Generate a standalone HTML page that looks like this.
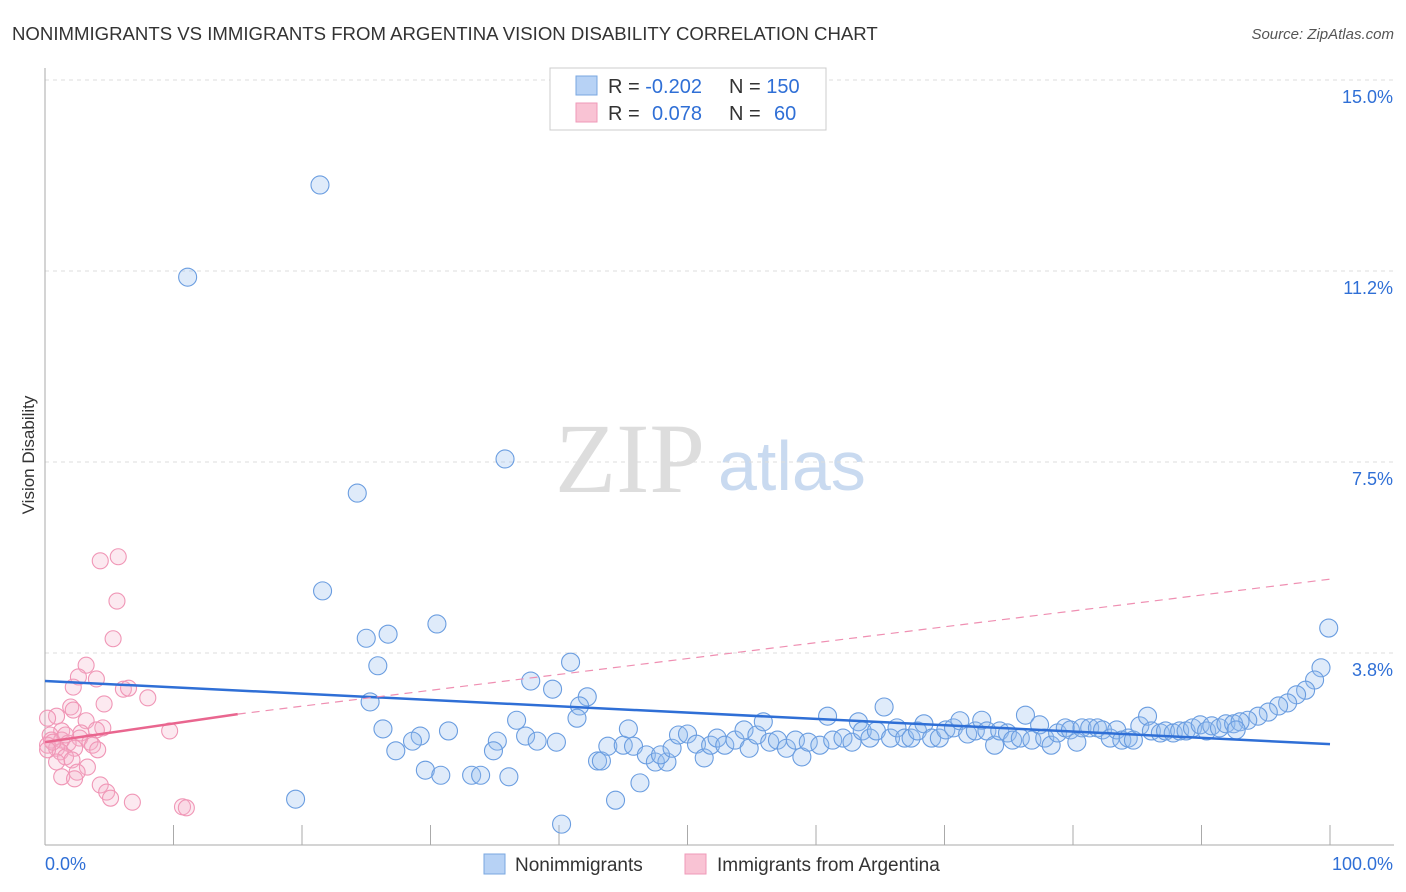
<!DOCTYPE html>
<html><head><meta charset="utf-8">
<style>
body{margin:0;background:#fff;font-family:"Liberation Sans",sans-serif;}
#wrap{position:relative;width:1406px;height:892px;overflow:hidden;}
</style></head>
<body>
<div id="wrap">
<svg id="svg" width="1406" height="892" xmlns="http://www.w3.org/2000/svg">
<text x="12" y="40" font-size="18.6" fill="#333">NONIMMIGRANTS VS IMMIGRANTS FROM ARGENTINA VISION DISABILITY CORRELATION CHART</text>
<text x="1394" y="39" font-size="15" fill="#555" font-style="italic" text-anchor="end">Source: ZipAtlas.com</text>
<text x="34" y="455" font-size="17" fill="#333" transform="rotate(-90 34 455)" text-anchor="middle">Vision Disability</text>
<text x="555" y="492" font-size="100" fill="#ddd" font-family="Liberation Serif,serif">ZIP</text>
<text x="718" y="490" font-size="70" fill="#c9daf0">atlas</text>
<g id="grid"></g><g id="ticks"></g><g id="pink"></g><g id="blue"></g><g id="lines"></g>
<g>
<rect x="550" y="68" width="276" height="62" fill="#fff" stroke="#ccc"/>
<rect x="576" y="76" width="21" height="19" fill="#b7d2f5" stroke="#7aa7e0"/>
<rect x="576" y="103" width="21" height="19" fill="#f9c3d4" stroke="#ef9ab8"/>
<text x="608" y="93" font-size="20" fill="#333">R = <tspan fill="#2f6fd6">-0.202</tspan></text>
<text x="729" y="93" font-size="20" fill="#333">N = <tspan fill="#2f6fd6">150</tspan></text>
<text x="608" y="120" font-size="20" fill="#333">R = <tspan fill="#2f6fd6" x="652">0.078</tspan></text>
<text x="729" y="120" font-size="20" fill="#333">N = <tspan fill="#2f6fd6" x="774">60</tspan></text>
</g>
<g>
<rect x="484" y="854" width="21" height="20" fill="#b7d2f5" stroke="#7aa7e0"/>
<text x="515" y="871" font-size="19" fill="#333">Nonimmigrants</text>
<rect x="685" y="854" width="21" height="20" fill="#f9c3d4" stroke="#ef9ab8"/>
<text x="717" y="871" font-size="19" fill="#333">Immigrants from Argentina</text>
</g>
<text x="45" y="870" font-size="18" fill="#2f6fd6">0.0%</text>
<text x="1393" y="870" font-size="18" fill="#2f6fd6" text-anchor="end">100.0%</text>
</svg>
</div>
<script>
const yTicks=[15,11.25,7.5,3.75];
const yTickLabels=["15.0%","11.2%","7.5%","3.8%"];
const xTicks=[0,10,20,30,40,50,60,70,80,90,100];
const blueX=[21.4,11.1,35.8,24.3,21.6,30.5,25.0,26.7,99.9,40.9,25.9,37.8,39.5,42.2,99.3,98.8,98.1,97.4,96.7,96.0,95.2,94.4,93.6,25.3,19.5,40.2,44.4,46.3,36.7,41.6,41.4,26.3,31.4,29.2,28.6,27.3,35.2,34.9,37.4,38.3,39.8,29.6,30.8,33.2,33.9,36.1,43.0,43.3,43.8,45.0,45.4,45.8,46.8,47.5,48.4,47.9,48.8,49.3,50.0,50.7,51.3,51.8,52.3,52.9,53.7,54.4,54.8,55.4,55.9,56.4,57.0,57.7,58.4,58.9,59.4,60.3,60.9,61.3,62.1,62.8,63.3,63.6,64.2,64.7,65.3,65.8,66.3,66.9,67.4,67.9,68.4,69.0,69.6,70.1,70.7,71.2,71.8,72.4,72.9,73.3,73.9,74.3,74.9,75.3,75.9,76.3,76.8,77.4,77.8,78.3,78.8,79.4,79.8,80.3,80.7,81.3,81.9,82.3,82.9,83.4,83.8,84.3,84.7,85.2,85.8,86.1,86.8,87.2,87.8,88.3,88.8,89.3,89.9,90.4,90.8,91.4,91.9,92.5,93.0,92.7];
const blueY=[12.94,11.13,7.56,6.89,4.97,4.32,4.04,4.12,4.24,3.57,3.50,3.20,3.04,2.89,3.46,3.22,3.02,2.93,2.77,2.71,2.59,2.51,2.43,2.79,0.88,0.39,0.86,1.20,2.43,2.71,2.47,2.26,2.22,2.12,2.02,1.83,2.02,1.83,2.12,2.02,2.00,1.45,1.35,1.35,1.35,1.32,1.63,1.63,1.92,1.94,2.26,1.92,1.75,1.61,1.61,1.75,1.88,2.14,2.16,1.96,1.69,1.94,2.08,1.94,2.04,2.24,1.88,2.14,2.40,2.00,2.04,1.88,2.04,1.71,2.00,1.94,2.51,2.04,2.08,2.00,2.40,2.22,2.08,2.22,2.69,2.08,2.28,2.08,2.08,2.22,2.36,2.08,2.08,2.24,2.28,2.42,2.16,2.22,2.43,2.22,1.94,2.22,2.18,2.04,2.08,2.53,2.04,2.34,2.08,1.94,2.18,2.28,2.24,2.00,2.28,2.28,2.28,2.24,2.08,2.24,2.04,2.08,2.04,2.32,2.51,2.22,2.18,2.22,2.18,2.22,2.22,2.28,2.34,2.22,2.32,2.28,2.36,2.36,2.40,2.24];
const pinkX=[4.3,5.7,5.6,5.3,3.2,2.6,4.0,2.2,6.1,6.5,8.0,4.6,2.0,2.2,0.9,0.2,3.2,4.5,1.3,2.8,4.0,9.7,0.4,0.5,1.3,2.7,3.5,1.8,0.2,0.9,2.3,3.7,4.1,1.2,1.6,2.1,0.9,3.3,2.5,1.3,2.3,4.3,4.8,5.1,6.8,10.7,11.0,0.6,0.2,1.6];
const pinkY=[5.56,5.64,4.77,4.03,3.51,3.28,3.24,3.08,3.04,3.06,2.87,2.75,2.69,2.63,2.51,2.47,2.42,2.28,2.22,2.18,2.24,2.22,2.14,2.04,2.04,2.08,2.00,1.98,1.94,1.88,1.88,1.94,1.85,1.81,1.71,1.65,1.61,1.51,1.41,1.32,1.28,1.16,1.02,0.90,0.82,0.73,0.71,2.00,1.85,2.14];
const blueTrend=[3.20,1.96];
const pinkTrend=[2.00,2.55,5.20];
const NS="http://www.w3.org/2000/svg";
const X=v=>45+v*12.85, Y=v=>844-v*50.93;
function mk(parent,tag,attrs){const e=document.createElementNS(NS,tag);for(const k in attrs)e.setAttribute(k,attrs[k]);document.getElementById(parent).appendChild(e);return e;}
yTicks.forEach((t,i)=>{
 const l=mk('grid','line',{x1:45,x2:1394,y1:Y(t),y2:Y(t),stroke:'#ddd','stroke-dasharray':'4,4'});
 
 
 const tx=mk('grid','text',{x:1393,y:Y(t)+23,'font-size':18,fill:'#2f6fd6','text-anchor':'end'});
 tx.textContent=yTickLabels[i];
 
 
});
const ax=mk('ticks','line',{x1:45,x2:45,y1:68,y2:845,stroke:'#aaa'});


const bx=mk('ticks','line',{x1:45,x2:1394,y1:845,y2:845,stroke:'#aaa'});


xTicks.forEach(t=>{
 const l=mk('ticks','line',{x1:X(t),x2:X(t),y1:825,y2:845,stroke:'#aaa'});
 
 
});
pinkX.forEach((x,i)=>{
 const c=mk('pink','circle',{cx:X(x),cy:Y(pinkY[i]),r:8,fill:'rgba(246,175,200,0.28)',stroke:'#f096b6','stroke-width':1.1});
 
 
});
blueX.forEach((x,i)=>{
 const c=mk('blue','circle',{cx:X(x),cy:Y(blueY[i]),r:9,fill:'rgba(150,190,240,0.3)',stroke:'#6a9de0','stroke-width':1.1});
 
 
});
const bl=mk('lines','line',{x1:X(0),y1:Y(blueTrend[0]),x2:X(100),y2:Y(blueTrend[1]),stroke:'#2f6fd6','stroke-width':2.5});


const pl=mk('lines','line',{x1:X(0),y1:Y(pinkTrend[0]),x2:X(15),y2:Y(pinkTrend[1]),stroke:'#e9668f','stroke-width':2.5});


const pd=mk('lines','line',{x1:X(15),y1:Y(pinkTrend[1]),x2:X(100),y2:Y(pinkTrend[2]),stroke:'#ef8fb2','stroke-width':1.2,'stroke-dasharray':'8,6'});


</script>
</body></html>
